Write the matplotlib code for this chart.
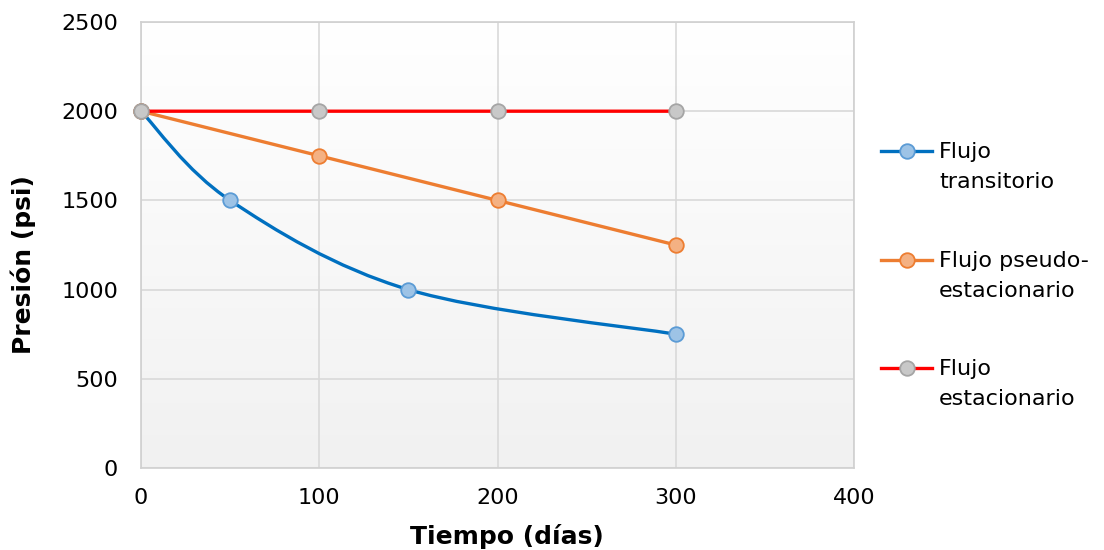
import matplotlib
matplotlib.use("Agg")
import matplotlib.pyplot as plt
import numpy as np
from matplotlib.path import Path
from matplotlib.patches import PathPatch
from matplotlib.lines import Line2D

plt.rcParams['font.family'] = ['DejaVu Sans']

# data
t_trans = [0, 50, 150, 300]
p_trans = [2000, 1500, 1000, 750]
t_pseudo = [0, 100, 200, 300]
p_pseudo = [2000, 1750, 1500, 1250]
t_estac = [0, 100, 200, 300]
p_estac = [2000, 2000, 2000, 2000]
labels = ["Flujo\ntransitorio", "Flujo pseudo-\nestacionario", "Flujo\nestacionario"]

line_colors = ["#0070c0", "#ed7d31", "#ff0000"]
face_colors = ["#9dc3e6", "#f4b183", "#c8c8c8"]
edge_colors = ["#5b9bd5", "#ed7d31", "#a5a5a5"]

W, H = 1104, 550


def smooth_path(xs, ys):
    # Excel-like smoothed line: cubic bezier through the points
    pts = np.column_stack([xs, ys]).astype(float)
    n = len(pts)
    verts = [pts[0]]
    codes = [Path.MOVETO]
    for i in range(n - 1):
        p0 = pts[i - 1] if i > 0 else pts[i]
        p1 = pts[i]
        p2 = pts[i + 1]
        p3 = pts[i + 2] if i + 2 < n else pts[i + 1]
        c1 = p1 + (p2 - p0) / 6.0
        c2 = p2 - (p3 - p1) / 6.0
        verts += [c1, c2, p2]
        codes += [Path.CURVE4] * 3
    return Path(verts, codes)


fig = plt.figure(figsize=(W / 100, H / 100), dpi=100)
ax = fig.add_axes([141 / W, 82 / H, 713 / W, 446 / H])

# gradient background
grad = np.linspace(1.0, 0.945, 256).reshape(-1, 1)
ax.imshow(np.dstack([grad, grad, grad]), extent=[0, 1, 0, 1], transform=ax.transAxes,
          aspect='auto', zorder=0)

ax.set_xlim(0, 400)
ax.set_ylim(0, 2500)
ax.set_xticks(np.arange(0, 401, 100))
ax.set_yticks(np.arange(0, 2501, 500))
ax.grid(True, color='#d9d9d9', linewidth=1.2, zorder=1)
ax.set_axisbelow(True)
for s in ax.spines.values():
    s.set_color('#d0d0d0')
    s.set_linewidth(1.2)
ax.tick_params(axis='y', length=0, labelsize=16, colors='black', pad=16.5)
ax.tick_params(axis='x', length=0, labelsize=16, colors='black', pad=14.5)

series = [(t_trans, p_trans), (t_pseudo, p_pseudo), (t_estac, p_estac)]
for i, (xs, ys) in enumerate(series):
    patch = PathPatch(smooth_path(xs, ys), facecolor='none', edgecolor=line_colors[i],
                      linewidth=2.4, zorder=3 + i, capstyle='round')
    ax.add_patch(patch)
    ax.plot(xs, ys, linestyle='none', marker='o', markersize=10.5,
            markerfacecolor=face_colors[i], markeredgecolor=edge_colors[i],
            markeredgewidth=1.3, zorder=3.5 + i, clip_on=False)

ax.set_xlabel("Tiempo (días)", fontsize=18, fontweight='bold')
ax.xaxis.set_label_coords((507 - 141) / 713, (468 - 524) / 446)
ax.set_ylabel("Presión (psi)", fontsize=18, fontweight='bold')
ax.yaxis.set_label_coords((36 - 141) / 713, (468 - 265) / 446)

# legend (Excel style: marker aligned with first text line)
legend_y = [151, 260, 368]
for i, lab in enumerate(labels):
    yf = 1 - legend_y[i] / H
    fig.add_artist(Line2D([881 / W, 932 / W], [yf, yf], color=line_colors[i],
                          linewidth=2.4, transform=fig.transFigure))
    fig.add_artist(Line2D([906.5 / W], [yf], linestyle='none', marker='o', markersize=10.5,
                          markerfacecolor=face_colors[i], markeredgecolor=edge_colors[i],
                          markeredgewidth=1.3, transform=fig.transFigure))
    fig.text(939 / W, 1 - (legend_y[i] - 9) / H, lab, fontsize=16, va='top',
             ha='left', linespacing=1.6)

fig.savefig("out.png", dpi=100)
